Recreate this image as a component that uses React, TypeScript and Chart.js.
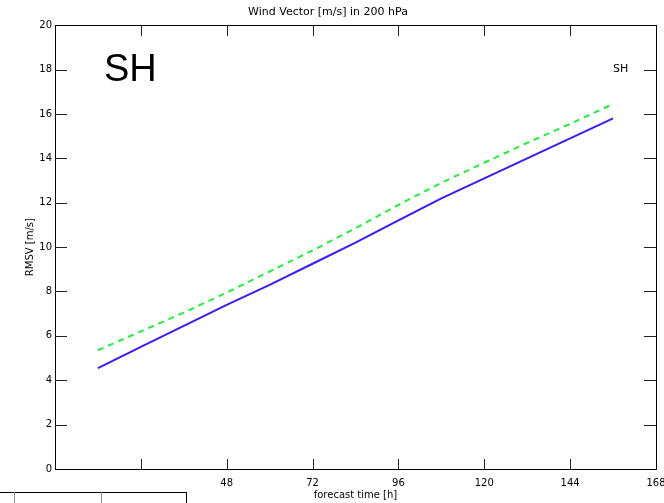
import React, { useEffect, useRef } from "react";
import { Chart, registerables } from "chart.js";

Chart.register(...registerables);

const hours = [12, 24, 36, 48, 60, 72, 84, 96, 108, 120, 132, 144, 156];
const blueSeries = [4.55, 5.5, 6.45, 7.4, 8.3, 9.25, 10.2, 11.2, 12.2, 13.1, 14.0, 14.9, 15.8];
const greenSeries = [5.35, 6.2, 7.05, 7.95, 8.9, 9.85, 10.85, 11.9, 12.9, 13.8, 14.7, 15.55, 16.45];
const xTickValues = [0, 24, 48, 72, 96, 120, 144, 168];
const xLabelledTicks = [48, 72, 96, 120, 144, 168];
const yTickValues = [0, 2, 4, 6, 8, 10, 12, 14, 16, 18, 20];
const chartTitle = "Wind Vector [m/s] in 200 hPa";
const xAxisTitle = "forecast time [h]";
const yAxisTitle = "RMSV [m/s]";
const regionLabel = "SH";

const FONT = "'DejaVu Sans', sans-serif";

const framePlugin = {
  id: "frame",
  afterDraw(chart: any) {
    const { ctx, chartArea, scales } = chart;
    const { left, right, top, bottom } = chartArea;
    const xs = scales.x;
    const ys = scales.y;
    ctx.save();
    // box
    ctx.strokeStyle = "#000";
    ctx.lineWidth = 1;
    ctx.strokeRect(Math.round(left) + 0.5, Math.round(top) + 0.5, Math.round(right - left), Math.round(bottom - top));
    // inward ticks
    ctx.strokeStyle = "#222";
    ctx.beginPath();
    xTickValues.slice(1, -1).forEach((v) => {
      const px = Math.round(xs.getPixelForValue(v)) + 0.5;
      ctx.moveTo(px, bottom);
      ctx.lineTo(px, bottom - 10);
      ctx.moveTo(px, top);
      ctx.lineTo(px, top + 11);
    });
    yTickValues.slice(1, -1).forEach((v) => {
      const py = Math.round(ys.getPixelForValue(v)) + 0.5;
      ctx.moveTo(left, py);
      ctx.lineTo(left + 12, py);
      ctx.moveTo(right, py);
      ctx.lineTo(right - 12, py);
    });
    ctx.stroke();

    // region labels
    ctx.fillStyle = "#000";
    ctx.textBaseline = "alphabetic";
    ctx.textAlign = "left";
    ctx.font = "38px 'Liberation Sans', Arial, sans-serif";
    ctx.fillText(regionLabel, left + 49, top + 56);
    ctx.font = "11px " + FONT;
    ctx.textBaseline = "middle";
    ctx.fillText(regionLabel, right - 43, ys.getPixelForValue(18));

    // partial frame of neighbouring panel at bottom-left
    ctx.strokeStyle = "#000";
    ctx.beginPath();
    ctx.moveTo(0, 492.5);
    ctx.lineTo(187, 492.5);
    ctx.moveTo(186.5, 492);
    ctx.lineTo(186.5, 503);
    ctx.stroke();
    ctx.strokeStyle = "#888";
    ctx.beginPath();
    ctx.moveTo(14.5, 492);
    ctx.lineTo(14.5, 503);
    ctx.moveTo(101.5, 492);
    ctx.lineTo(101.5, 503);
    ctx.stroke();
    ctx.restore();
  },
};

export default function App() {
  const canvasRef = useRef<HTMLCanvasElement | null>(null);

  useEffect(() => {
    if (!canvasRef.current) return;
    const chart = new Chart(canvasRef.current, {
      type: "line",
      data: {
        datasets: [
          {
            label: "blue",
            data: hours.map((h, i) => ({ x: h, y: blueSeries[i] })),
            borderColor: "#3a1cff",
            borderWidth: 2,
            pointRadius: 0,
            tension: 0,
          },
          {
            label: "green",
            data: hours.map((h, i) => ({ x: h, y: greenSeries[i] })),
            borderColor: "#1ef03c",
            borderWidth: 2,
            borderDash: [6, 5],
            pointRadius: 0,
            tension: 0,
          },
        ],
      },
      options: {
        animation: false,
        responsive: false,
        devicePixelRatio: 1,
        layout: { padding: { left: 0, right: 8, top: 0, bottom: 0 } },
        plugins: {
          legend: { display: false },
          tooltip: { enabled: false },
          title: {
            display: true,
            text: chartTitle,
            color: "#000",
            font: { family: FONT, size: 11, weight: "normal" },
            padding: { top: 6, bottom: 6 },
          },
        },
        scales: {
          x: {
            type: "linear",
            min: 0,
            max: 168,
            afterBuildTicks: (scale: any) => {
              scale.ticks = xTickValues.map((v) => ({ value: v }));
            },
            afterFit: (scale: any) => {
              scale.height = 34;
              scale.paddingLeft = 0;
              scale.paddingRight = 0;
            },
            grid: { display: false, drawTicks: false },
            border: { display: false },
            ticks: {
              autoSkip: false,
              maxRotation: 0,
              padding: 8,
              color: "#000",
              font: { family: FONT, size: 10 },
              callback: (v: any) => (xLabelledTicks.includes(Number(v)) ? String(v) : ""),
            },
            title: {
              display: true,
              text: xAxisTitle,
              color: "#000",
              font: { family: FONT, size: 10 },
              padding: { top: 0, bottom: 2 },
            },
          },
          y: {
            type: "linear",
            min: 0,
            max: 20,
            afterBuildTicks: (scale: any) => {
              scale.ticks = yTickValues.map((v) => ({ value: v }));
            },
            afterFit: (scale: any) => {
              scale.width = 55;
              scale.paddingTop = 0;
              scale.paddingBottom = 0;
            },
            grid: { display: false, drawTicks: false },
            border: { display: false },
            ticks: {
              padding: 3,
              color: "#000",
              font: { family: FONT, size: 10 },
            },
            title: {
              display: true,
              text: yAxisTitle,
              color: "#000",
              font: { family: FONT, size: 10 },
              padding: { top: 24, bottom: 0 },
            },
          },
        },
      },
      plugins: [framePlugin],
    } as any);
    return () => chart.destroy();
  }, []);

  return (
    <div style={{ position: "fixed", left: 0, top: 0, width: 664, height: 503, background: "#fff" }}>
      <canvas ref={canvasRef} width={664} height={503} style={{ display: "block" }} />
    </div>
  );
}
